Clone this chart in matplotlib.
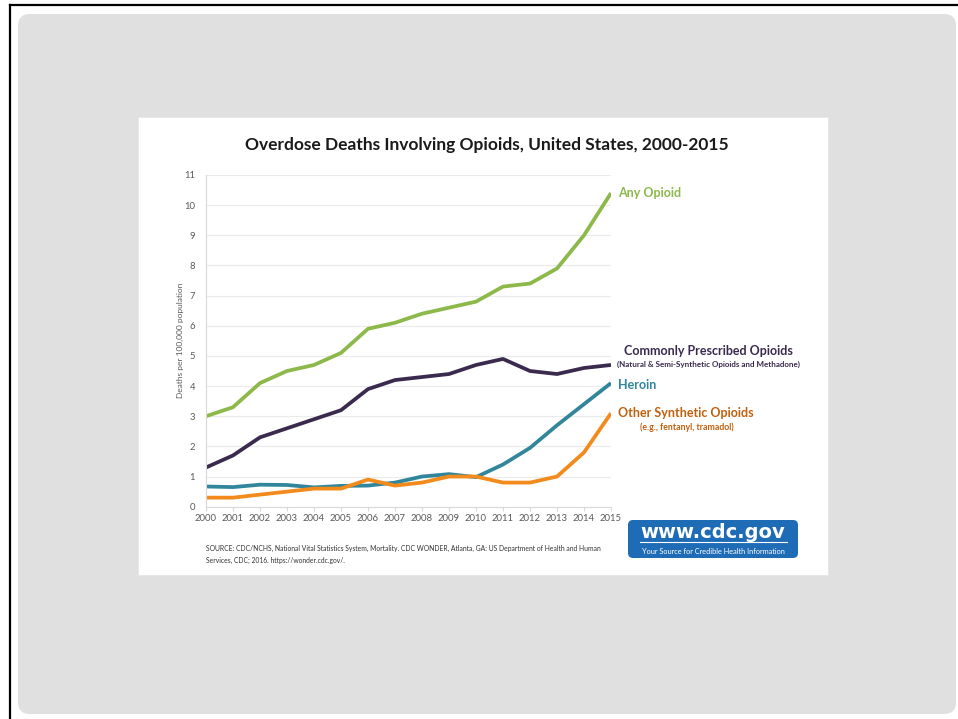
import matplotlib
matplotlib.use("Agg")
import matplotlib.pyplot as plt
from matplotlib.patches import FancyBboxPatch, Rectangle

years = list(range(2000, 2016))
any_opioid = [3.0, 3.3, 4.1, 4.5, 4.7, 5.1, 5.9, 6.1, 6.4, 6.6, 6.8, 7.3, 7.4, 7.9, 9.0, 10.4]
prescribed = [1.3, 1.7, 2.3, 2.6, 2.9, 3.2, 3.9, 4.2, 4.3, 4.4, 4.7, 4.9, 4.5, 4.4, 4.6, 4.7]
heroin = [0.67, 0.65, 0.73, 0.72, 0.64, 0.69, 0.7, 0.8, 1.0, 1.08, 0.98, 1.4, 1.95, 2.7, 3.4, 4.1]
synthetic = [0.3, 0.3, 0.4, 0.5, 0.6, 0.6, 0.9, 0.7, 0.8, 1.0, 1.0, 0.8, 0.8, 1.0, 1.8, 3.1]
y_ticks = list(range(0, 12))

green = "#8DB84A"
purple = "#3A2A4E"
teal = "#31869B"
orange = "#F28A1C"
orange_text = "#C0600F"
tick_grey = "#595959"

plt.rcParams["font.family"] = ["Lato", "DejaVu Sans"]

W, H = 958, 719
fig = plt.figure(figsize=(W / 100, H / 100), dpi=100)
fig.patch.set_facecolor("white")

# slide background drawn in pixel coordinates
bg = fig.add_axes([0, 0, 1, 1])
bg.set_xlim(0, W)
bg.set_ylim(H, 0)
bg.axis("off")
bg.add_patch(FancyBboxPatch((18, 14), 938, 700, boxstyle="round,pad=0,rounding_size=12",
                            facecolor="#E0E0E0", edgecolor="none"))
bg.plot([10, 10], [5, H], color="black", lw=1.6)
bg.plot([10, W], [5, 5], color="black", lw=1.6)
bg.add_patch(Rectangle((138, 117), 690, 458, facecolor="white", edgecolor="#E6E6E6", lw=0.6))

bg.text(487, 145, "Overdose Deaths Involving Opioids, United States, 2000-2015",
        ha="center", va="center", fontsize=12.5, fontweight="bold", color="#1A1A1A")
bg.text(180, 340, "Deaths per 100,000 population", rotation=90, ha="center", va="center",
        fontsize=6, color=tick_grey)

# series labels
bg.text(618, 193, "Any Opioid", ha="left", va="center", fontsize=9, fontweight="bold", color=green)
bg.text(708, 351, "Commonly Prescribed Opioids", ha="center", va="center", fontsize=9,
        fontweight="bold", color=purple)
bg.text(708, 364, "(Natural & Semi-Synthetic Opioids and Methadone)", ha="center", va="center",
        fontsize=5.8, fontweight="bold", color=purple)
bg.text(618, 385, "Heroin", ha="left", va="center", fontsize=9, fontweight="bold", color=teal)
bg.text(618, 413, "Other Synthetic Opioids", ha="left", va="center", fontsize=9,
        fontweight="bold", color=orange_text)
bg.text(687, 427, "(e.g., fentanyl, tramadol)", ha="center", va="center", fontsize=6.3,
        fontweight="bold", color=orange_text)

# source note
bg.text(206, 548, "SOURCE: CDC/NCHS, National Vital Statistics System, Mortality. CDC WONDER, Atlanta, GA: US Department of Health and Human",
        ha="left", va="center", fontsize=4.9, color="#333333")
bg.text(206, 560, "Services, CDC; 2016. https://wonder.cdc.gov/.", ha="left", va="center",
        fontsize=4.9, color="#333333")

# cdc logo
bg.add_patch(FancyBboxPatch((628, 520), 170, 38, boxstyle="round,pad=0,rounding_size=5",
                            facecolor="#1F6CB6", edgecolor="none"))
bg.text(713, 532, "www.cdc.gov", ha="center", va="center", fontsize=14, fontweight="bold",
        color="white", family="DejaVu Sans")
bg.plot([640, 787], [542, 542], color="white", lw=0.8)
bg.text(713, 551, "Your Source for Credible Health Information", ha="center", va="center",
        fontsize=5.3, color="white")

# chart
ax = fig.add_axes([206 / W, (H - 506.7) / H, (611 - 206) / W, (506.7 - 175) / H])
ax.set_facecolor("none")
ax.plot(years, any_opioid, color=green, lw=2.7, solid_capstyle="butt")
ax.plot(years, prescribed, color=purple, lw=2.7, solid_capstyle="butt")
ax.plot(years, heroin, color=teal, lw=2.7, solid_capstyle="butt")
ax.plot(years, synthetic, color=orange, lw=2.7, solid_capstyle="butt")
ax.set_xlim(2000, 2015)
ax.set_ylim(0, 11)
ax.set_xticks(years)
ax.set_yticks(y_ticks)
ax.grid(axis="y", color="#EBEBEB", lw=0.8)
ax.set_axisbelow(True)
for s in ["top", "right"]:
    ax.spines[s].set_visible(False)
for s in ["left", "bottom"]:
    ax.spines[s].set_color("#D9D9D9")
    ax.spines[s].set_linewidth(0.8)
ax.tick_params(axis="y", length=0, labelsize=6.8, labelcolor=tick_grey, pad=8)
ax.tick_params(axis="x", length=3, color="#D9D9D9", labelsize=6.8, labelcolor=tick_grey, pad=2)

fig.savefig("out.png", dpi=100)
